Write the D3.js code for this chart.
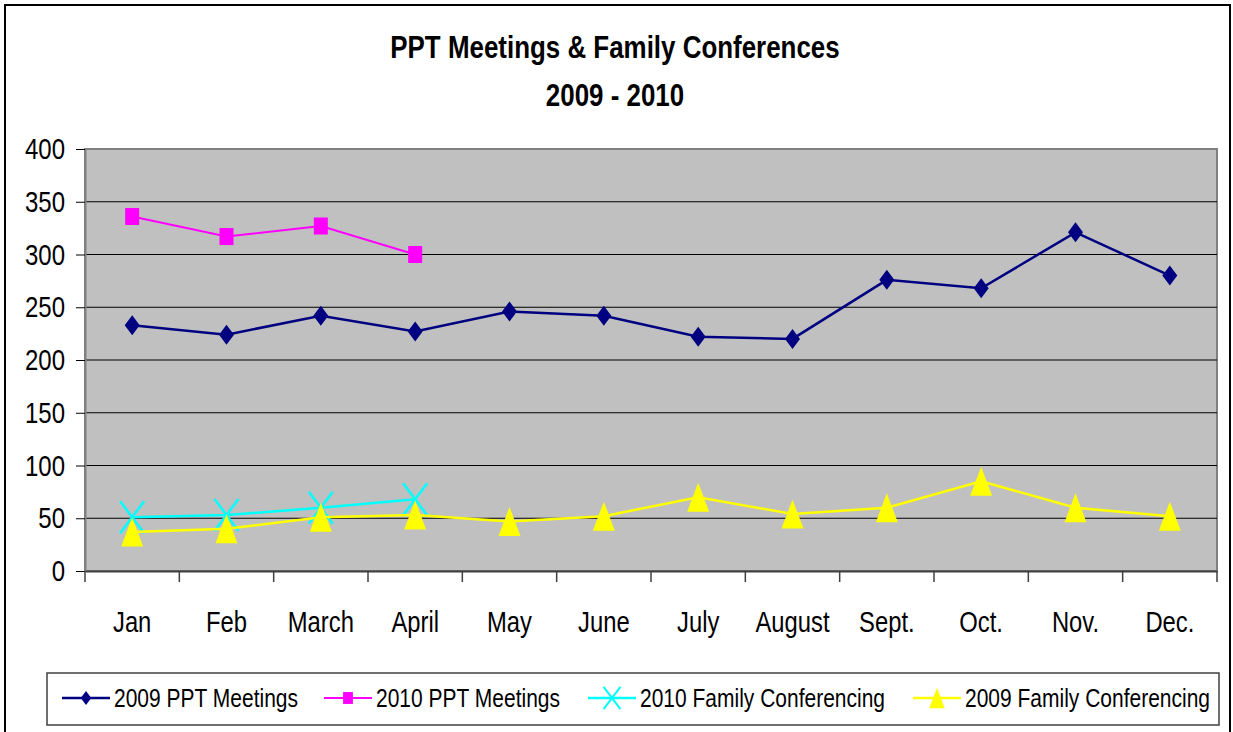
<!DOCTYPE html>
<html>
<head>
<meta charset="utf-8">
<script src="https://cdn.jsdelivr.net/npm/d3@7"></script>
<style>
  body { margin: 0; background: #fff; }
  svg text { font-family: "Liberation Sans Narrow", "Arial Narrow", "Liberation Sans", Arial, sans-serif; }
</style>
</head>
<body>
<svg id="chart" width="1233" height="732"></svg>
<script>
const months = ['Jan', 'Feb', 'March', 'April', 'May', 'June', 'July', 'August', 'Sept.', 'Oct.', 'Nov.', 'Dec.'];
const ppt2009 = [233, 224, 242, 227, 246, 242, 222, 220, 276, 268, 321, 280];
const ppt2010 = [336, 317, 327, 300];
const family2010 = [51, 53, 60, 68];
const family2009 = [37, 40, 51, 53, 47, 52, 70, 54, 60, 85, 60, 52];
const yTicks = [0, 50, 100, 150, 200, 250, 300, 350, 400];

const seriesList = [
  { name: '2009 PPT Meetings', values: ppt2009, color: '#000080', marker: 'diamond', width: 2.5 },
  { name: '2010 PPT Meetings', values: ppt2010, color: '#FF00FF', marker: 'square', width: 2 },
  { name: '2010 Family Conferencing', values: family2010, color: '#00FFFF', marker: 'x', width: 2.5 },
  { name: '2009 Family Conferencing', values: family2009, color: '#FFFF00', marker: 'triangle', width: 2.5 },
];

const svg = d3.select('#chart');
const margin = { top: 149, right: 16, bottom: 162, left: 85 };
const W = 1233, H = 732;

// no narrow font installed, so squeeze the text horizontally
function condense(sel, k) {
  sel.each(function () {
    const w = this.getComputedTextLength();
    d3.select(this).attr('textLength', w * k).attr('lengthAdjust', 'spacingAndGlyphs');
  });
}

// outer chart border
svg.append('rect')
  .attr('x', 5).attr('y', 5).attr('width', 1225).attr('height', 740)
  .attr('fill', '#fff').attr('stroke', '#000').attr('stroke-width', 2);

// title
const title = svg.append('text').attr('text-anchor', 'middle')
  .attr('font-size', 32).attr('font-weight', 'bold').attr('fill', '#000');
title.append('tspan').attr('x', 615).attr('y', 58).text('PPT Meetings & Family Conferences');
title.append('tspan').attr('x', 615).attr('y', 106).text('2009 - 2010');
condense(title.selectAll('tspan'), 0.81);

const x = d3.scaleBand().domain(months).range([margin.left, W - margin.right]);
const y = d3.scaleLinear().domain([0, 400]).range([H - margin.bottom + 1, margin.top]);

// plot background
svg.append('rect')
  .attr('x', margin.left).attr('y', y(400))
  .attr('width', x.range()[1] - margin.left).attr('height', y(0) - y(400))
  .attr('fill', '#C0C0C0').attr('stroke', '#808080').attr('stroke-width', 2);

// gridlines
svg.append('g').selectAll('line')
  .data(yTicks.filter((d) => d > 0))
  .join('line')
  .attr('x1', margin.left).attr('x2', x.range()[1])
  .attr('y1', (d) => y(d)).attr('y2', (d) => y(d))
  .attr('stroke', (d) => (d === 400 ? '#808080' : '#000')).attr('stroke-width', 1.2);

// y axis
const yAxis = svg.append('g')
  .attr('transform', `translate(${margin.left},0)`)
  .call(d3.axisLeft(y).tickValues(yTicks).tickSize(9).tickSizeOuter(0).tickPadding(11));
yAxis.select('.domain').attr('stroke', '#808080').attr('stroke-width', 2);
yAxis.selectAll('.tick line').attr('stroke', '#000');
yAxis.selectAll('.tick text').attr('font-size', 30).attr('fill', '#000').attr('font-family', null);
condense(yAxis.selectAll('.tick text'), 0.8);

// x axis
const xAxis = svg.append('g')
  .attr('transform', `translate(0,${y(0)})`)
  .call(d3.axisBottom(x).tickSize(0).tickPadding(40));
xAxis.select('.domain').attr('stroke', '#404040').attr('stroke-width', 2);
xAxis.selectAll('.tick text').attr('font-size', 29).attr('fill', '#000').attr('font-family', null);
condense(xAxis.selectAll('.tick text'), 0.82);
// tick marks between categories
svg.append('g').selectAll('line')
  .data(d3.range(months.length + 1))
  .join('line')
  .attr('x1', (i) => margin.left + i * x.step()).attr('x2', (i) => margin.left + i * x.step())
  .attr('y1', y(0)).attr('y2', y(0) + 11)
  .attr('stroke', '#404040').attr('stroke-width', 1.5);

function markerPath(type, s) {
  if (type === 'diamond') return `M0,${-10 * s}L${7.5 * s},0L0,${10 * s}L${-7.5 * s},0Z`;
  if (type === 'square') return `M${-7 * s},${-8.5 * s}H${7 * s}V${8.5 * s}H${-7 * s}Z`;
  if (type === 'triangle') return `M0,${-14.5 * s}L${11 * s},${14.5 * s}H${-11 * s}Z`;
  return `M${-12 * s},${-16 * s}L${12 * s},${16 * s}M${12 * s},${-16 * s}L${-12 * s},${16 * s}`;
}

const cx = (i) => x(months[i]) + x.bandwidth() / 2;
const line = d3.line().x((d, i) => cx(i)).y((d) => y(d));

// draw order: 2009 PPT, 2010 PPT, 2010 family, 2009 family
seriesList.forEach((s) => {
  const g = svg.append('g');
  g.append('path')
    .attr('d', line(s.values))
    .attr('fill', 'none').attr('stroke', s.color).attr('stroke-width', s.width);
  g.selectAll('path.m')
    .data(s.values)
    .join('path')
    .attr('class', 'm')
    .attr('transform', (d, i) => `translate(${cx(i)},${y(d)})`)
    .attr('d', markerPath(s.marker, 1))
    .attr('fill', s.marker === 'x' ? 'none' : s.color)
    .attr('stroke', s.color)
    .attr('stroke-width', s.marker === 'x' ? 2.5 : 0);
});

// legend
const legend = svg.append('g');
legend.append('rect')
  .attr('x', 47).attr('y', 673).attr('width', 1172).attr('height', 52)
  .attr('fill', '#fff').attr('stroke', '#404040').attr('stroke-width', 1.5);
const legendX = [86, 348, 612, 937];
seriesList.forEach((s, i) => {
  const lg = legend.append('g').attr('transform', `translate(${legendX[i]},698)`);
  lg.append('line').attr('x1', -24).attr('x2', 24).attr('stroke', s.color).attr('stroke-width', s.width);
  lg.append('path')
    .attr('d', markerPath(s.marker, 0.7))
    .attr('fill', s.marker === 'x' ? 'none' : s.color)
    .attr('stroke', s.color)
    .attr('stroke-width', s.marker === 'x' ? 2 : 0);
  lg.append('text')
    .attr('transform', 'translate(28,9) scale(0.84,1)')
    .attr('font-size', 25).attr('fill', '#000').text(s.name);
});
</script>
</body>
</html>
